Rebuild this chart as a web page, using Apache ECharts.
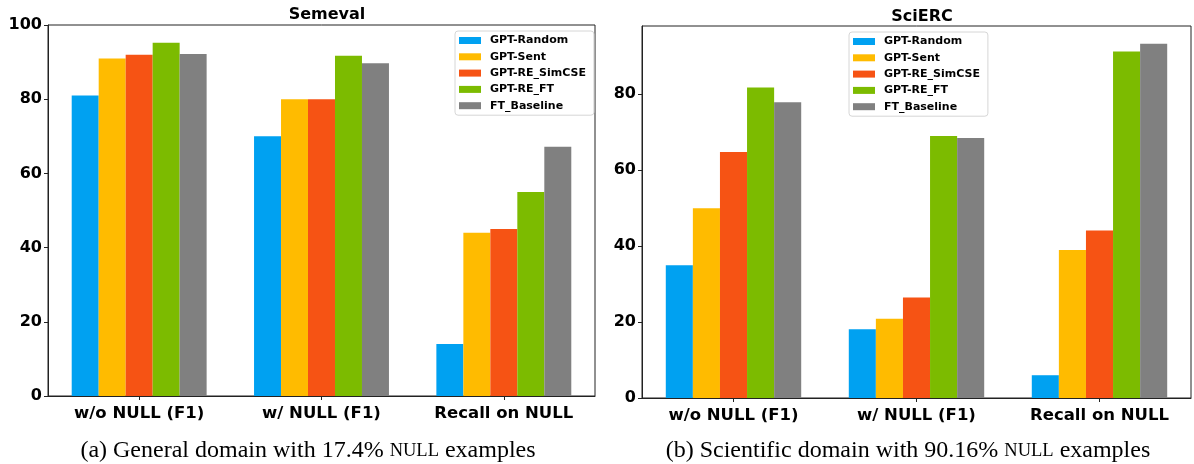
<!DOCTYPE html>
<html><head><meta charset="utf-8">
<script src="https://cdn.jsdelivr.net/npm/echarts@6/dist/echarts.min.js"></script>
<style>html,body{margin:0;padding:0;background:#fff}#c{width:1194px;height:464px}</style>
</head><body><div id="c"></div>
<script>
const categories = ['w/o NULL (F1)', 'w/ NULL (F1)', 'Recall on NULL'];
const seriesNames = ['GPT-Random', 'GPT-Sent', 'GPT-RE_SimCSE', 'GPT-RE_FT', 'FT_Baseline'];
const colors = ['#00A1F1', '#FFBB00', '#F65314', '#7CBB00', '#808080'];
const semeval = [
  [81, 70, 14],
  [91, 80, 44],
  [92, 80, 45],
  [95.2, 91.7, 55],
  [92.2, 89.7, 67.2]
];
const scierc = [
  [35, 18.1, 6],
  [50, 20.9, 39],
  [64.8, 26.5, 44.1],
  [81.8, 69, 91.3],
  [77.9, 68.5, 93.3]
];
const semevalMax = 100;
const sciercMax = 98;

const chart = echarts.init(document.getElementById('c'));
const fontSans = 'DejaVu Sans';
const axisCol = '#222';

function xAx(gi) {
  return {
    type: 'category', gridIndex: gi, data: categories,
    axisLine: { lineStyle: { color: axisCol, width: 1 } },
    axisTick: { show: true, alignWithLabel: true, length: 4, lineStyle: { color: axisCol } },
    axisLabel: { fontFamily: fontSans, fontWeight: 'bold', fontSize: 16.5, color: '#000', margin: 9 }
  };
}
function yAx(gi, max, showMax) {
  return {
    type: 'value', gridIndex: gi, min: 0, max: max, interval: 20,
    splitLine: { show: false },
    axisLine: { show: true, lineStyle: { color: axisCol, width: 1 } },
    axisTick: { show: true, length: 4, lineStyle: { color: axisCol } },
    axisLabel: { fontFamily: fontSans, fontWeight: 'bold', fontSize: 16, color: '#000', margin: 6, showMaxLabel: showMax }
  };
}
const series = [];
seriesNames.forEach((n, i) => {
  series.push({ name: n, type: 'bar', xAxisIndex: 0, yAxisIndex: 0, data: semeval[i],
    itemStyle: { color: colors[i] }, barGap: '0%', barCategoryGap: '26%' });
});
seriesNames.forEach((n, i) => {
  series.push({ name: n, type: 'bar', xAxisIndex: 1, yAxisIndex: 1, data: scierc[i],
    itemStyle: { color: colors[i] }, barGap: '0%', barCategoryGap: '26%' });
});
function leg(left, top) {
  return {
    data: seriesNames, orient: 'vertical', left: left, top: top, width: 138,
    icon: 'rect', itemWidth: 22, itemHeight: 7, itemGap: 5.3,
    backgroundColor: '#fff', borderColor: '#d6d6d6', borderWidth: 1, borderRadius: 3,
    padding: [4, 8, 4, 4], selectedMode: false,
    textStyle: { fontFamily: fontSans, fontWeight: 'bold', fontSize: 11, color: '#000', padding: [0, 0, 0, 4] }
  };
}
const capRich = {
  s: { fontFamily: 'Liberation Serif', fontSize: 24, fontWeight: 'normal', color: '#000' },
  sc: { fontFamily: 'Liberation Serif', fontSize: 18.5, fontWeight: 'normal', color: '#000' }
};
chart.setOption({
  animation: false,
  grid: [
    { left: 48, right: 599, top: 25, bottom: 68, show: true, borderColor: axisCol, borderWidth: 1, backgroundColor: 'transparent' },
    { left: 642, right: 3, top: 26, bottom: 66, show: true, borderColor: axisCol, borderWidth: 1, backgroundColor: 'transparent' }
  ],
  title: [
    { text: 'Semeval', left: 322, top: 2, textAlign: 'center', textStyle: { fontFamily: fontSans, fontWeight: 'bold', fontSize: 16, color: '#000' } },
    { text: 'SciERC', left: 917, top: 4, textAlign: 'center', textStyle: { fontFamily: fontSans, fontWeight: 'bold', fontSize: 16, color: '#000' } },
    { text: '{s|(a) General domain with 17.4% }{sc|NULL}{s| examples}', left: 303, top: 434, textAlign: 'center', textStyle: { fontWeight: 'normal', rich: capRich } },
    { text: '{s|(b) Scientific domain with 90.16% }{sc|NULL}{s| examples}', left: 903, top: 434, textAlign: 'center', textStyle: { fontWeight: 'normal', rich: capRich } }
  ],
  legend: [leg(455, 31), leg(849, 32)],
  xAxis: [xAx(0), xAx(1)],
  yAxis: [yAx(0, semevalMax, true), yAx(1, sciercMax, false)],
  series: series
});
</script>
</body></html>
